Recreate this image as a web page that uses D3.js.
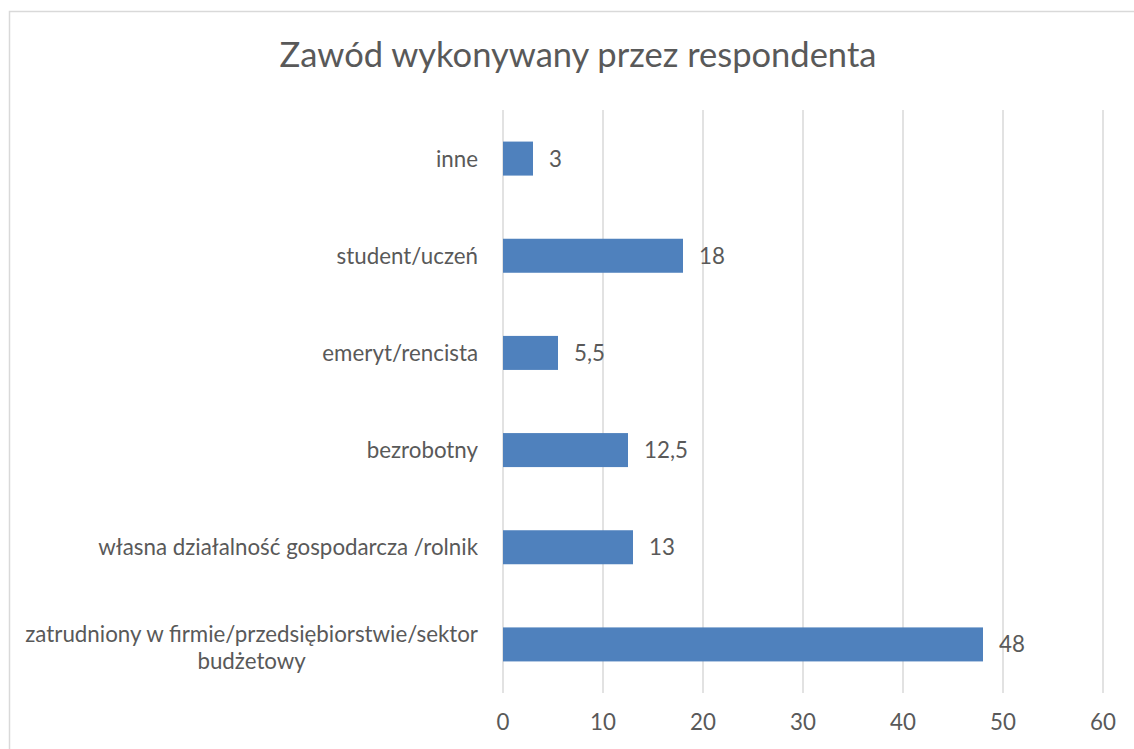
<!DOCTYPE html>
<html lang="pl">
<head>
  <meta charset="UTF-8">
  <title>Zawód wykonywany przez respondenta</title>
  <script src="https://cdn.jsdelivr.net/npm/d3@7"></script>
  <style>
    body { margin: 0; background: #fff; }
    text { font-family: Lato, "Open Sans", sans-serif; fill: #595959; }
  </style>
</head>
<body>
  <svg id="chart" width="1134" height="749"></svg>
  <script>
    const title = "Zawód wykonywany przez respondenta";
    const categories = [
      "zatrudniony w firmie/przedsiębiorstwie/sektor\nbudżetowy",
      "własna działalność gospodarcza /rolnik",
      "bezrobotny",
      "emeryt/rencista",
      "student/uczeń",
      "inne"
    ];
    const values = [48, 13, 12.5, 5.5, 18, 3];
    const xTicks = [0, 10, 20, 30, 40, 50, 60];

    const width = 1134, height = 749;
    const margin = { top: 110, right: 31, bottom: 56, left: 503 };

    const svg = d3.select("#chart");

    // outer chart border (right and bottom run off the page)
    svg.append("rect")
      .attr("x", 9.5).attr("y", 11.5)
      .attr("width", width).attr("height", height)
      .attr("fill", "none")
      .attr("stroke", "#d9d9d9")
      .attr("stroke-width", 1.5);

    const x = d3.scaleLinear()
      .domain([0, 60])
      .range([margin.left, width - margin.right]);

    const y = d3.scaleBand()
      .domain(categories.slice().reverse())
      .range([margin.top, height - margin.bottom])
      .paddingInner(0.65)
      .paddingOuter(0.325);

    const pl = d3.formatLocale({ decimal: ",", thousands: " ", grouping: [3], currency: ["", " zł"] });
    const fmt = pl.format("~g");

    // fit font sizes to the widths measured on the reference
    function fitSize(str, target) {
      const t = svg.append("text").attr("font-size", 100).text(str);
      const w = t.node().getComputedTextLength();
      t.remove();
      return 100 * target / w;
    }
    const titleSize = fitSize(title, 597);
    const labelSize = fitSize("zatrudniony w firmie/przedsiębiorstwie/sektor", 453);

    svg.append("text")
      .attr("x", 578).attr("y", 67)
      .attr("text-anchor", "middle")
      .attr("font-size", titleSize)
      .text(title);

    // gridlines
    svg.append("g")
      .selectAll("line")
      .data(xTicks)
      .join("line")
      .attr("x1", d => x(d)).attr("x2", d => x(d))
      .attr("y1", margin.top).attr("y2", height - margin.bottom)
      .attr("stroke", "#d9d9d9")
      .attr("stroke-width", 1.5);

    // x tick labels
    svg.append("g")
      .selectAll("text")
      .data(xTicks)
      .join("text")
      .attr("x", d => x(d))
      .attr("y", 722)
      .attr("dy", "0.36em")
      .attr("text-anchor", "middle")
      .attr("font-size", labelSize)
      .text(d => fmt(d));

    // bars
    svg.append("g")
      .selectAll("rect")
      .data(categories)
      .join("rect")
      .attr("x", x(0))
      .attr("y", d => y(d))
      .attr("width", (d, i) => x(values[i]) - x(0))
      .attr("height", y.bandwidth())
      .attr("fill", "#4f81bd");

    // value labels
    svg.append("g")
      .selectAll("text")
      .data(categories)
      .join("text")
      .attr("x", (d, i) => x(values[i]) + 16)
      .attr("y", d => y(d) + y.bandwidth() / 2)
      .attr("dy", "0.36em")
      .attr("font-size", labelSize)
      .text((d, i) => fmt(values[i]));

    // category labels, multi-line ones centred in a right-aligned block
    const labelRight = 478;
    const lineGap = labelSize * 1.25;
    categories.forEach(c => {
      const lines = c.split("\n");
      const g = svg.append("g");
      const cy = y(c) + y.bandwidth() / 2 - (lines.length - 1) * lineGap / 2 + (lines.length > 1 ? 3 : 0);
      const texts = g.selectAll("text")
        .data(lines)
        .join("text")
        .attr("y", (d, i) => cy + i * lineGap)
        .attr("dy", "0.36em")
        .attr("font-size", labelSize)
        .text(d => d);
      const maxW = d3.max(texts.nodes(), n => n.getComputedTextLength());
      texts.attr("text-anchor", "middle").attr("x", labelRight - maxW / 2);
    });
  </script>
</body>
</html>
